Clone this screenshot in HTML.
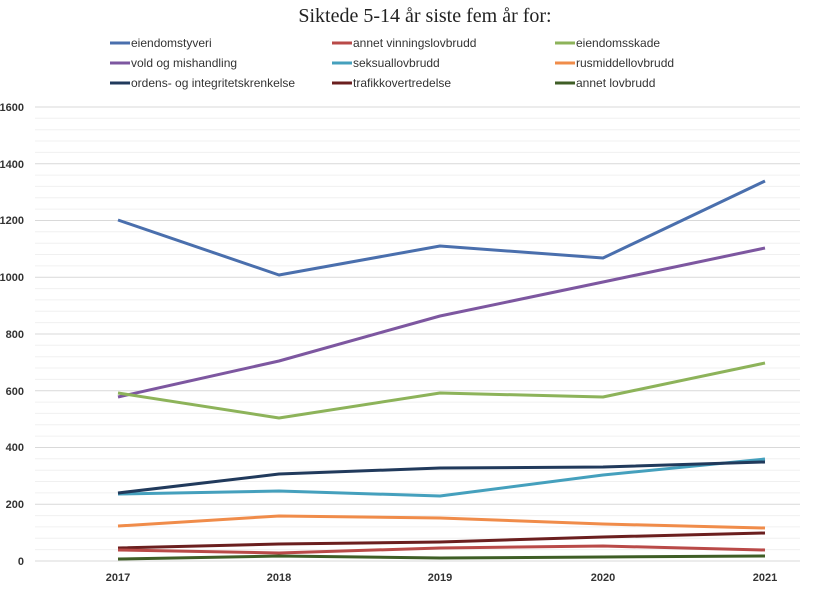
<!DOCTYPE html>
<html><head><meta charset="utf-8"><style>
body{margin:0;background:#fff;}
svg text{font-family:"Liberation Sans",sans-serif;}
</style></head><body>
<svg width="821" height="586" xmlns="http://www.w3.org/2000/svg">
<text x="425" y="22" text-anchor="middle" style="font-family:'Liberation Serif',serif" font-size="20" fill="#222">Siktede 5-14 år siste fem år for:</text>
<g font-size="12" fill="#333">
<line x1="110" y1="43" x2="130" y2="43" stroke="#4a6fad" stroke-width="3"/><text x="131" y="47">eiendomstyveri</text>
<line x1="332" y1="43" x2="352" y2="43" stroke="#b94a48" stroke-width="3"/><text x="353" y="47">annet vinningslovbrudd</text>
<line x1="555" y1="43" x2="575" y2="43" stroke="#8db35a" stroke-width="3"/><text x="576" y="47">eiendomsskade</text>
<line x1="110" y1="63" x2="130" y2="63" stroke="#7d57a0" stroke-width="3"/><text x="131" y="67">vold og mishandling</text>
<line x1="332" y1="63" x2="352" y2="63" stroke="#45a0bd" stroke-width="3"/><text x="353" y="67">seksuallovbrudd</text>
<line x1="555" y1="63" x2="575" y2="63" stroke="#f08c4a" stroke-width="3"/><text x="576" y="67">rusmiddellovbrudd</text>
<line x1="110" y1="83" x2="130" y2="83" stroke="#213a5c" stroke-width="3"/><text x="131" y="87">ordens- og integritetskrenkelse</text>
<line x1="332" y1="83" x2="352" y2="83" stroke="#6b1f1f" stroke-width="3"/><text x="353" y="87">trafikkovertredelse</text>
<line x1="555" y1="83" x2="575" y2="83" stroke="#3f5e26" stroke-width="3"/><text x="576" y="87">annet lovbrudd</text>
</g>
<g stroke="#f0f0f0" stroke-width="1">
<line x1="35" x2="800" y1="549.6" y2="549.6"/><line x1="35" x2="800" y1="538.3" y2="538.3"/><line x1="35" x2="800" y1="526.9" y2="526.9"/><line x1="35" x2="800" y1="515.6" y2="515.6"/>
<line x1="35" x2="800" y1="492.9" y2="492.9"/><line x1="35" x2="800" y1="481.5" y2="481.5"/><line x1="35" x2="800" y1="470.2" y2="470.2"/><line x1="35" x2="800" y1="458.8" y2="458.8"/>
<line x1="35" x2="800" y1="436.1" y2="436.1"/><line x1="35" x2="800" y1="424.8" y2="424.8"/><line x1="35" x2="800" y1="413.4" y2="413.4"/><line x1="35" x2="800" y1="402.1" y2="402.1"/>
<line x1="35" x2="800" y1="379.4" y2="379.4"/><line x1="35" x2="800" y1="368.0" y2="368.0"/><line x1="35" x2="800" y1="356.7" y2="356.7"/><line x1="35" x2="800" y1="345.3" y2="345.3"/>
<line x1="35" x2="800" y1="322.6" y2="322.6"/><line x1="35" x2="800" y1="311.3" y2="311.3"/><line x1="35" x2="800" y1="299.9" y2="299.9"/><line x1="35" x2="800" y1="288.6" y2="288.6"/>
<line x1="35" x2="800" y1="265.9" y2="265.9"/><line x1="35" x2="800" y1="254.5" y2="254.5"/><line x1="35" x2="800" y1="243.2" y2="243.2"/><line x1="35" x2="800" y1="231.8" y2="231.8"/>
<line x1="35" x2="800" y1="209.1" y2="209.1"/><line x1="35" x2="800" y1="197.8" y2="197.8"/><line x1="35" x2="800" y1="186.4" y2="186.4"/><line x1="35" x2="800" y1="175.1" y2="175.1"/>
<line x1="35" x2="800" y1="152.4" y2="152.4"/><line x1="35" x2="800" y1="141.0" y2="141.0"/><line x1="35" x2="800" y1="129.7" y2="129.7"/><line x1="35" x2="800" y1="118.3" y2="118.3"/>
</g>
<g stroke="#d9d9d9" stroke-width="1">
<line x1="35" x2="800" y1="561" y2="561"/><line x1="35" x2="800" y1="504.3" y2="504.3"/><line x1="35" x2="800" y1="447.5" y2="447.5"/><line x1="35" x2="800" y1="390.8" y2="390.8"/><line x1="35" x2="800" y1="334" y2="334"/><line x1="35" x2="800" y1="277.3" y2="277.3"/><line x1="35" x2="800" y1="220.5" y2="220.5"/><line x1="35" x2="800" y1="163.8" y2="163.8"/><line x1="35" x2="800" y1="107" y2="107"/>
</g>
<g font-size="11" font-weight="bold" fill="#333" text-anchor="end">
<text x="24" y="565">0</text><text x="24" y="508">200</text><text x="24" y="451">400</text><text x="24" y="395">600</text><text x="24" y="338">800</text><text x="24" y="281">1000</text><text x="24" y="224">1200</text><text x="24" y="168">1400</text><text x="24" y="111">1600</text>
</g>
<g font-size="11" font-weight="bold" fill="#333" text-anchor="middle">
<text x="118" y="581">2017</text><text x="279" y="581">2018</text><text x="440" y="581">2019</text><text x="603" y="581">2020</text><text x="765" y="581">2021</text>
</g>
<g fill="none" stroke-width="3" stroke-linejoin="round">
<polyline stroke="#4a6fad" points="118,220 279,275 440,246 603,258 765,181"/>
<polyline stroke="#7d57a0" points="118,397 279,361 440,316 603,282 765,248"/>
<polyline stroke="#8db35a" points="118,393 279,418 440,393 603,397 765,363"/>
<polyline stroke="#45a0bd" points="118,494 279,491 440,496 603,475 765,459"/>
<polyline stroke="#213a5c" points="118,493 279,474 440,468 603,467 765,462"/>
<polyline stroke="#f08c4a" points="118,526 279,516 440,518 603,524 765,528"/>
<polyline stroke="#6b1f1f" points="118,548 279,544 440,542 603,537 765,533"/>
<polyline stroke="#b94a48" points="118,550 279,553 440,548 603,546 765,550"/>
<polyline stroke="#3f5e26" points="118,559 279,556 440,558 603,557 765,556"/>
</g>
</svg>
</body></html>
